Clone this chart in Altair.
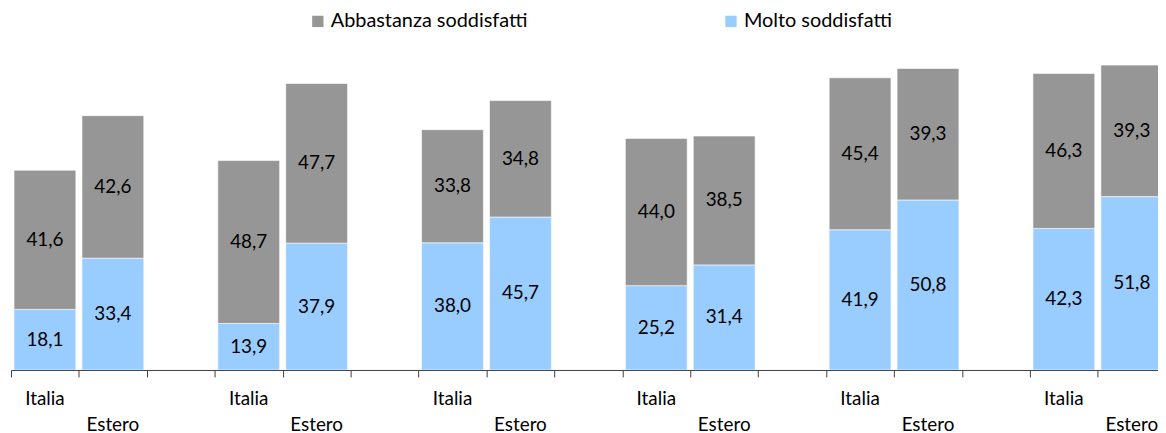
import altair as alt
import pandas as pd

# ---- data ----
n_groups = 6
origins = ["Italia", "Estero"]
series = ["Abbastanza soddisfatti", "Molto soddisfatti"]
italia_molto = [18.1, 13.9, 38.0, 25.2, 41.9, 42.3]
italia_abb = [41.6, 48.7, 33.8, 44.0, 45.4, 46.3]
estero_molto = [33.4, 37.9, 45.7, 31.4, 50.8, 51.8]
estero_abb = [42.6, 47.7, 34.8, 38.5, 39.3, 39.3]

colors = ["#969696", "#99CCFF"]
FONT = "Lato"

rows = []
for g in range(n_groups):
    for k, origin in enumerate(origins):
        slot = g * 3 + k
        molto = italia_molto[g] if origin == "Italia" else estero_molto[g]
        abb = italia_abb[g] if origin == "Italia" else estero_abb[g]
        rows.append(dict(slot=slot, x0=slot + 0.045, x1=slot + 0.955, xc=slot + 0.5,
                         origin=origin, serie=series[1], ord=0, value=molto))
        rows.append(dict(slot=slot, x0=slot + 0.045, x1=slot + 0.955, xc=slot + 0.5,
                         origin=origin, serie=series[0], ord=1, value=abb))
df = pd.DataFrame(rows)

labels_df = df[df["ord"] == 0][["slot", "xc", "origin"]]

W, H = 1155, 337
step = 68.4
xscale = alt.Scale(domain=[0, W / step], nice=False, zero=False)
yscale = alt.Scale(domain=[0, 100], nice=False)

base = alt.Chart(df).transform_stack(
    stack="value", groupby=["slot"], as_=["y0", "y1"], sort=[alt.SortField("ord")]
).transform_calculate(ym="(datum.y0 + datum.y1) / 2", lab="replace(format(datum.value, '.1f'), '.', ',')")

bars = base.mark_bar(clip=True, stroke="#ffffff", strokeWidth=0.6).encode(
    x=alt.X("x0:Q", scale=xscale,
            axis=alt.Axis(values=list(range(17)), labels=False, title=None, grid=False,
                          tickSize=7, tickColor="#404040", domainColor="#404040",
                          tickWidth=1, domainWidth=1)),
    x2="x1:Q",
    y=alt.Y("y0:Q", scale=yscale, axis=None),
    y2="y1:Q",
    color=alt.Color("serie:N", scale=alt.Scale(domain=series, range=colors),
                    legend=alt.Legend(title=None, orient="none", direction="horizontal",
                                      legendX=299, legendY=-24, symbolType="square",
                                      symbolSize=130, symbolStrokeWidth=0,
                                      labelFont=FONT, labelFontSize=20, labelColor="#000000",
                                      labelLimit=0, columnPadding=194, labelOffset=3)),
)

texts = base.mark_text(font=FONT, fontSize=19, color="#000000", clip=True).encode(
    x=alt.X("xc:Q", scale=xscale),
    y=alt.Y("ym:Q", scale=yscale),
    text="lab:N",
)

ital = alt.Chart(labels_df).transform_filter("datum.origin == 'Italia'").mark_text(
    font=FONT, fontSize=19, color="#000000", baseline="middle"
).encode(x=alt.X("xc:Q", scale=xscale), y=alt.value(H + 29), text="origin:N")

est = alt.Chart(labels_df).transform_filter("datum.origin == 'Estero'").mark_text(
    font=FONT, fontSize=19, color="#000000", baseline="middle"
).encode(x=alt.X("xc:Q", scale=xscale), y=alt.value(H + 55), text="origin:N")

chart = alt.layer(bars, texts, ital, est).properties(
    width=W, height=H,
    autosize=alt.AutoSizeParams(type="none"),
    padding={"left": 3, "top": 26, "right": 0, "bottom": 68},
).configure_view(stroke=None)

chart.save("out.html", embed_options={"renderer": "svg", "actions": False})
